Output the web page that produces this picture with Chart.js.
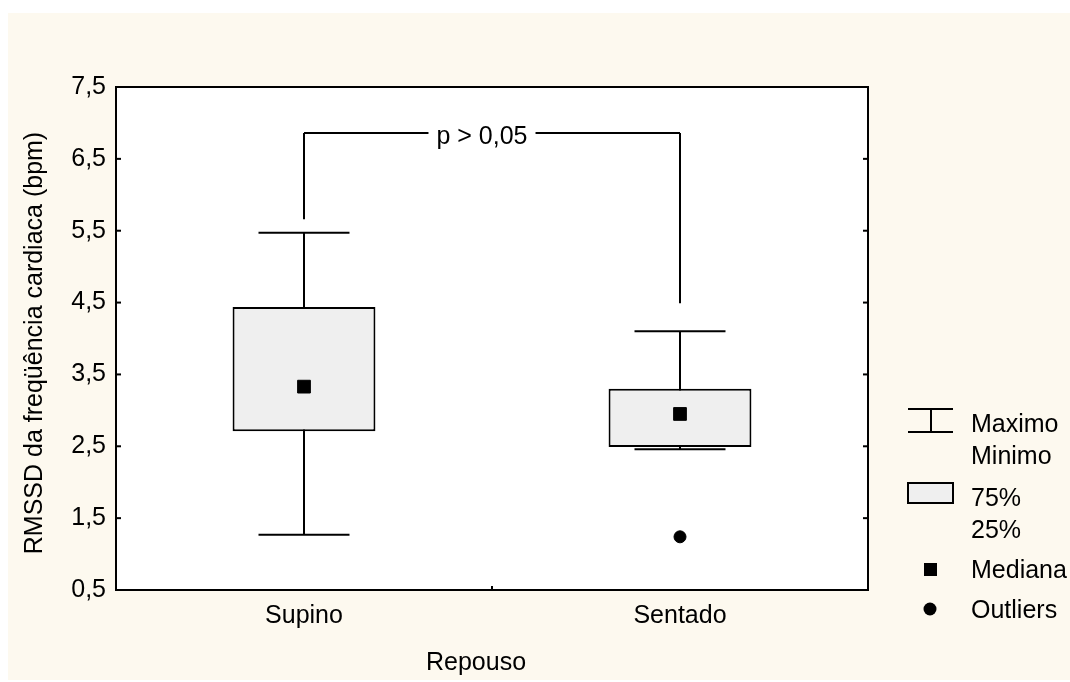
<!DOCTYPE html>
<html>
<head>
<meta charset="utf-8">
<script src="https://cdn.jsdelivr.net/npm/chart.js@4.4.1/dist/chart.umd.min.js"></script>
<style>
html, body { margin: 0; padding: 0; background: #fff; }
#wrap { width: 1070px; height: 682px; }
</style>
</head>
<body>
<div id="wrap"><canvas id="boxChart"></canvas></div>
<script>
// valores
var categorias = ['Supino', 'Sentado']
var minimo = [1.27, 2.46]
var quartil25 = [2.71, 2.49]
var mediana = [3.33, 2.95]
var quartil75 = [4.44, 3.30]
var maximo = [5.47, 4.10]
var outliers = [null, 1.24]
var yTicks = ['0,5', '1,5', '2,5', '3,5', '4,5', '5,5', '6,5', '7,5']
// linha de significancia
var sigTopo = 6.86
var sigPontas = [5.66, 4.49]
var sigTexto = 'p > 0,05'

var familia = '"Liberation Sans", Arial, sans-serif'
var fonte = '25px ' + familia

function linha(ctx, x1, y1, x2, y2) {
	ctx.beginPath()
	ctx.moveTo(x1, y1)
	ctx.lineTo(x2, y2)
	ctx.stroke()
}

var desenho = {
	id: 'desenho',
	beforeDraw: function (chart) {
		var ctx = chart.ctx, a = chart.chartArea
		ctx.save()
		ctx.fillStyle = '#ffffff'
		ctx.fillRect(0, 0, chart.width, chart.height)
		ctx.fillStyle = '#fdf9ef'
		ctx.fillRect(8, 13, chart.width - 8, 667)
		ctx.fillStyle = '#ffffff'
		ctx.fillRect(a.left, a.top, a.right - a.left, a.bottom - a.top)
		ctx.restore()
	},
	beforeDatasetsDraw: function (chart) {
		// bigodes: maximo / minimo
		var ctx = chart.ctx, x = chart.scales.x, y = chart.scales.y
		var meia = (x.getPixelForValue(1) - x.getPixelForValue(0)) * 0.121
		ctx.save()
		ctx.strokeStyle = '#000'
		ctx.lineWidth = 2
		for (var i = 0; i < categorias.length; i++) {
			var cx = x.getPixelForValue(i)
			var yMax = y.getPixelForValue(maximo[i])
			var yMin = y.getPixelForValue(minimo[i])
			linha(ctx, cx, yMax, cx, yMin)
			linha(ctx, cx - meia, yMax, cx + meia, yMax)
			linha(ctx, cx - meia, yMin, cx + meia, yMin)
		}
		ctx.restore()
	},
	afterDraw: function (chart) {
		var ctx = chart.ctx, a = chart.chartArea, x = chart.scales.x, y = chart.scales.y
		ctx.save()
		ctx.strokeStyle = '#000'
		ctx.fillStyle = '#000'
		ctx.lineWidth = 2
		// moldura
		ctx.strokeRect(a.left, a.top, a.right - a.left, a.bottom - a.top)
		// marcas para dentro
		y.ticks.forEach(function (t) {
			var py = y.getPixelForValue(t.value)
			linha(ctx, a.left, py, a.left + 5, py)
			linha(ctx, a.right - 5, py, a.right, py)
		})
		var meio = x.getPixelForValue(0.5)
		linha(ctx, meio, a.bottom, meio, a.bottom - 4)

		// chave de significancia
		var x0 = x.getPixelForValue(0), x1 = x.getPixelForValue(1)
		var yt = y.getPixelForValue(sigTopo)
		ctx.font = fonte
		var w = ctx.measureText(sigTexto).width
		var tx = (x0 + x1) / 2 - 10
		linha(ctx, x0, y.getPixelForValue(sigPontas[0]), x0, yt)
		linha(ctx, x0, yt, tx - w / 2 - 8, yt)
		linha(ctx, tx + w / 2 + 8, yt, x1, yt)
		linha(ctx, x1, yt, x1, y.getPixelForValue(sigPontas[1]))
		ctx.textAlign = 'center'
		ctx.textBaseline = 'middle'
		ctx.fillText(sigTexto, tx, yt + 4)

		// titulos dos eixos
		ctx.fillText('Repouso', 476, 663)
		ctx.save()
		ctx.translate(35, 343)
		ctx.rotate(-Math.PI / 2)
		ctx.fillText('RMSSD da freqüência cardiaca (bpm)', 0, 0)
		ctx.restore()

		// legenda
		ctx.textAlign = 'left'
		linha(ctx, 908, 409, 953, 409)
		linha(ctx, 908, 432, 953, 432)
		linha(ctx, 931, 409, 931, 432)
		ctx.fillText('Maximo', 971, 425)
		ctx.fillText('Minimo', 971, 457)
		ctx.fillStyle = '#efefef'
		ctx.fillRect(908, 483, 45, 20)
		ctx.strokeRect(908, 483, 45, 20)
		ctx.fillStyle = '#000'
		ctx.fillText('75%', 971, 499)
		ctx.fillText('25%', 971, 531)
		ctx.fillRect(924, 563, 13, 13)
		ctx.fillText('Mediana', 971, 571)
		ctx.beginPath()
		ctx.arc(930, 609, 6.5, 0, Math.PI * 2)
		ctx.fill()
		ctx.fillText('Outliers', 971, 611)
		ctx.restore()
	}
}

var ctxB = document.getElementById('boxChart').getContext('2d')
var boxChart = new Chart(ctxB, {
	type: 'bar',
	data: {
		labels: categorias,
		datasets: [
			{
				type: 'line',
				data: mediana,
				showLine: false,
				pointStyle: 'rect',
				pointRadius: 9,
				pointBackgroundColor: '#000',
				pointBorderColor: '#000',
				pointBorderWidth: 1,
				order: 1
			},
			{
				type: 'line',
				data: outliers,
				showLine: false,
				pointStyle: 'circle',
				pointRadius: 6,
				pointBackgroundColor: '#000',
				pointBorderColor: '#000',
				pointBorderWidth: 1,
				order: 1
			},
			{
				data: categorias.map(function (c, i) { return [quartil25[i], quartil75[i]] }),
				backgroundColor: '#efefef',
				borderColor: '#000',
				borderWidth: 2,
				borderSkipped: false,
				barPercentage: 0.38,
				categoryPercentage: 1,
				order: 2
			}
		]
	},
	options: {
		responsive: true,
		maintainAspectRatio: false,
		animation: false,
		events: [],
		layout: { padding: { left: 0, top: 87, right: 202, bottom: 0 } },
		plugins: { legend: { display: false }, tooltip: { enabled: false } },
		scales: {
			x: {
				grid: { display: false, drawTicks: false },
				border: { display: false },
				ticks: { color: '#000', font: { size: 25, family: familia }, padding: 11 },
				afterFit: function (s) { s.height = 92 }
			},
			y: {
				min: 0.5,
				max: 7.5,
				grid: { display: false, drawTicks: false },
				border: { display: false },
				ticks: {
					stepSize: 1,
					color: '#000',
					font: { size: 25, family: familia },
					padding: 10,
					callback: function (v, i) { return yTicks[i] }
				},
				afterFit: function (s) { s.width = 116 }
			}
		}
	},
	plugins: [desenho]
})
</script>
</body>
</html>
